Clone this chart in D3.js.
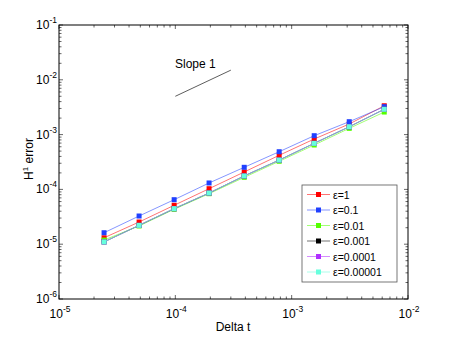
<!DOCTYPE html>
<html>
<head>
<meta charset="utf-8">
<script src="https://cdn.jsdelivr.net/npm/d3@7"></script>
<style>
  body { margin: 0; background: #fff; }
  text { font-family: "Liberation Sans", Arial, sans-serif; fill: #000; }
</style>
</head>
<body>
<div id="container"></div>
<script>
(function () {
  var width = 450, height = 337;
  var margin = { top: 25, left: 59, right: 42, bottom: 38 };

  // delta t values (0.1 / 2^k)
  var dt = [2.44e-5, 4.88e-5, 9.77e-5, 1.95e-4, 3.91e-4, 7.81e-4, 1.5625e-3, 3.125e-3, 6.25e-3];

  var eps = ["1", "0.1", "0.01", "0.001", "0.0001", "0.00001"];
  var colors = ["#ff0000", "#2040ff", "#55ff00", "#000000", "#b030ff", "#66ffdd"];

  var err1 = [1.31e-5, 2.54e-5, 5.13e-5, 1.03e-4, 2.08e-4, 4.19e-4, 8.31e-4, 1.56e-3, 3.36e-3];
  var err01 = [1.62e-5, 3.27e-5, 6.49e-5, 1.31e-4, 2.53e-4, 4.87e-4, 9.55e-4, 1.72e-3, 3.23e-3];
  var err001 = [1.19e-5, 2.15e-5, 4.34e-5, 8.35e-5, 1.66e-4, 3.26e-4, 6.46e-4, 1.30e-3, 2.58e-3];
  var err0001 = [1.10e-5, 2.21e-5, 4.45e-5, 8.59e-5, 1.76e-4, 3.43e-4, 6.93e-4, 1.39e-3, 2.90e-3];
  var err00001 = [1.10e-5, 2.21e-5, 4.45e-5, 8.59e-5, 1.76e-4, 3.43e-4, 6.93e-4, 1.39e-3, 2.90e-3];
  var err000001 = [1.10e-5, 2.21e-5, 4.45e-5, 8.59e-5, 1.76e-4, 3.43e-4, 6.93e-4, 1.39e-3, 2.90e-3];
  var series = [err1, err01, err001, err0001, err00001, err000001];

  var xTicks = [1e-5, 1e-4, 1e-3, 1e-2];
  var xExp = ["-5", "-4", "-3", "-2"];
  var yTicks = [1e-6, 1e-5, 1e-4, 1e-3, 1e-2, 1e-1];
  var yExp = ["-6", "-5", "-4", "-3", "-2", "-1"];

  var slopeX = [1e-4, 3e-4];
  var slopeY = [5e-3, 1.5e-2];

  var svg = d3.select("#container").append("svg")
    .attr("width", width).attr("height", height);

  var x = d3.scaleLog().domain([1e-5, 1e-2]).range([margin.left, width - margin.right]);
  var y = d3.scaleLog().domain([1e-6, 1e-1]).range([height - margin.bottom, margin.top]);

  var x0 = x.range()[0], x1 = x.range()[1], y0 = y.range()[0], y1 = y.range()[1];

  // minor + major ticks, drawn inward on all four sides
  var minorX = [], minorY = [];
  for (var e = -5; e < -2; e++) for (var m = 2; m < 10; m++) minorX.push(m * Math.pow(10, e));
  for (var e2 = -6; e2 < -1; e2++) for (var m2 = 2; m2 < 10; m2++) minorY.push(m2 * Math.pow(10, e2));

  var ticks = svg.append("g").attr("stroke", "#000").attr("stroke-width", 0.6);
  function tickX(v, len) {
    ticks.append("line").attr("x1", x(v)).attr("x2", x(v)).attr("y1", y0).attr("y2", y0 - len);
    ticks.append("line").attr("x1", x(v)).attr("x2", x(v)).attr("y1", y1).attr("y2", y1 + len);
  }
  function tickY(v, len) {
    ticks.append("line").attr("y1", y(v)).attr("y2", y(v)).attr("x1", x0).attr("x2", x0 + len);
    ticks.append("line").attr("y1", y(v)).attr("y2", y(v)).attr("x1", x1).attr("x2", x1 - len);
  }
  minorX.forEach(function (v) { tickX(v, 2.5); });
  minorY.forEach(function (v) { tickY(v, 2.5); });
  xTicks.forEach(function (v) { tickX(v, 4); });
  yTicks.forEach(function (v) { tickY(v, 4); });

  svg.append("rect").attr("x", x0).attr("y", y1)
    .attr("width", x1 - x0).attr("height", y0 - y1)
    .attr("fill", "none").attr("stroke", "#000").attr("stroke-width", 1);

  // tick labels
  xTicks.forEach(function (v, i) {
    var t = svg.append("text").attr("x", x(v) + 1).attr("y", 318)
      .attr("text-anchor", "middle").style("font-size", "12px");
    t.append("tspan").text("10");
    t.append("tspan").attr("dy", -6).style("font-size", "8.5px").text(xExp[i]);
  });
  yTicks.forEach(function (v, i) {
    var t = svg.append("text").attr("x", 57).attr("y", y(v) + 4)
      .attr("text-anchor", "end").style("font-size", "12px");
    t.append("tspan").text("10");
    t.append("tspan").attr("dy", -6).style("font-size", "8.5px").text(yExp[i]);
  });

  svg.append("text").attr("x", 233).attr("y", 331).attr("text-anchor", "middle")
    .style("font-size", "12px").text("Delta t");

  var yl = svg.append("text").attr("transform", "translate(33,159) rotate(-90)")
    .attr("text-anchor", "middle").style("font-size", "12px");
  yl.append("tspan").text("H");
  yl.append("tspan").attr("dy", -5).style("font-size", "8px").text("1");
  yl.append("tspan").attr("dy", 5).text(" error");

  // slope reference
  svg.append("line")
    .attr("x1", x(slopeX[0])).attr("y1", y(slopeY[0]))
    .attr("x2", x(slopeX[1])).attr("y2", y(slopeY[1]))
    .attr("stroke", "#333").attr("stroke-width", 0.8);
  svg.append("text").attr("x", 175).attr("y", 68).style("font-size", "12px").text("Slope 1");

  // series
  var line = d3.line().x(function (d) { return x(d[0]); }).y(function (d) { return y(d[1]); });
  series.forEach(function (s, i) {
    var pts = dt.map(function (d, j) { return [d, s[j]]; });
    var g = svg.append("g");
    g.append("path").datum(pts).attr("d", line)
      .attr("fill", "none").attr("stroke", colors[i]).attr("stroke-opacity", 0.55).attr("stroke-width", 1);
    g.selectAll("rect").data(pts).enter().append("rect")
      .attr("x", function (d) { return x(d[0]) - 2.5; })
      .attr("y", function (d) { return y(d[1]) - 2.5; })
      .attr("width", 5).attr("height", 5)
      .attr("fill", colors[i]);
  });

  // legend
  var lx = 302, ly = 185, lw = 95, lh = 97, rowH = 15.5;
  svg.append("rect").attr("x", lx).attr("y", ly).attr("width", lw).attr("height", lh)
    .attr("fill", "#fff").attr("stroke", "#555").attr("stroke-width", 0.8);
  eps.forEach(function (e, i) {
    var cy = ly + 9.5 + i * rowH;
    svg.append("line").attr("x1", lx + 5).attr("x2", lx + 28).attr("y1", cy).attr("y2", cy)
      .attr("stroke", colors[i]).attr("stroke-opacity", 0.55);
    svg.append("rect").attr("x", lx + 14).attr("y", cy - 2.5).attr("width", 5).attr("height", 5)
      .attr("fill", colors[i]);
    svg.append("text").attr("x", lx + 31).attr("y", cy + 4).style("font-size", "10.5px")
      .text("\u03b5=" + e);
  });
})();
</script>
</body>
</html>
